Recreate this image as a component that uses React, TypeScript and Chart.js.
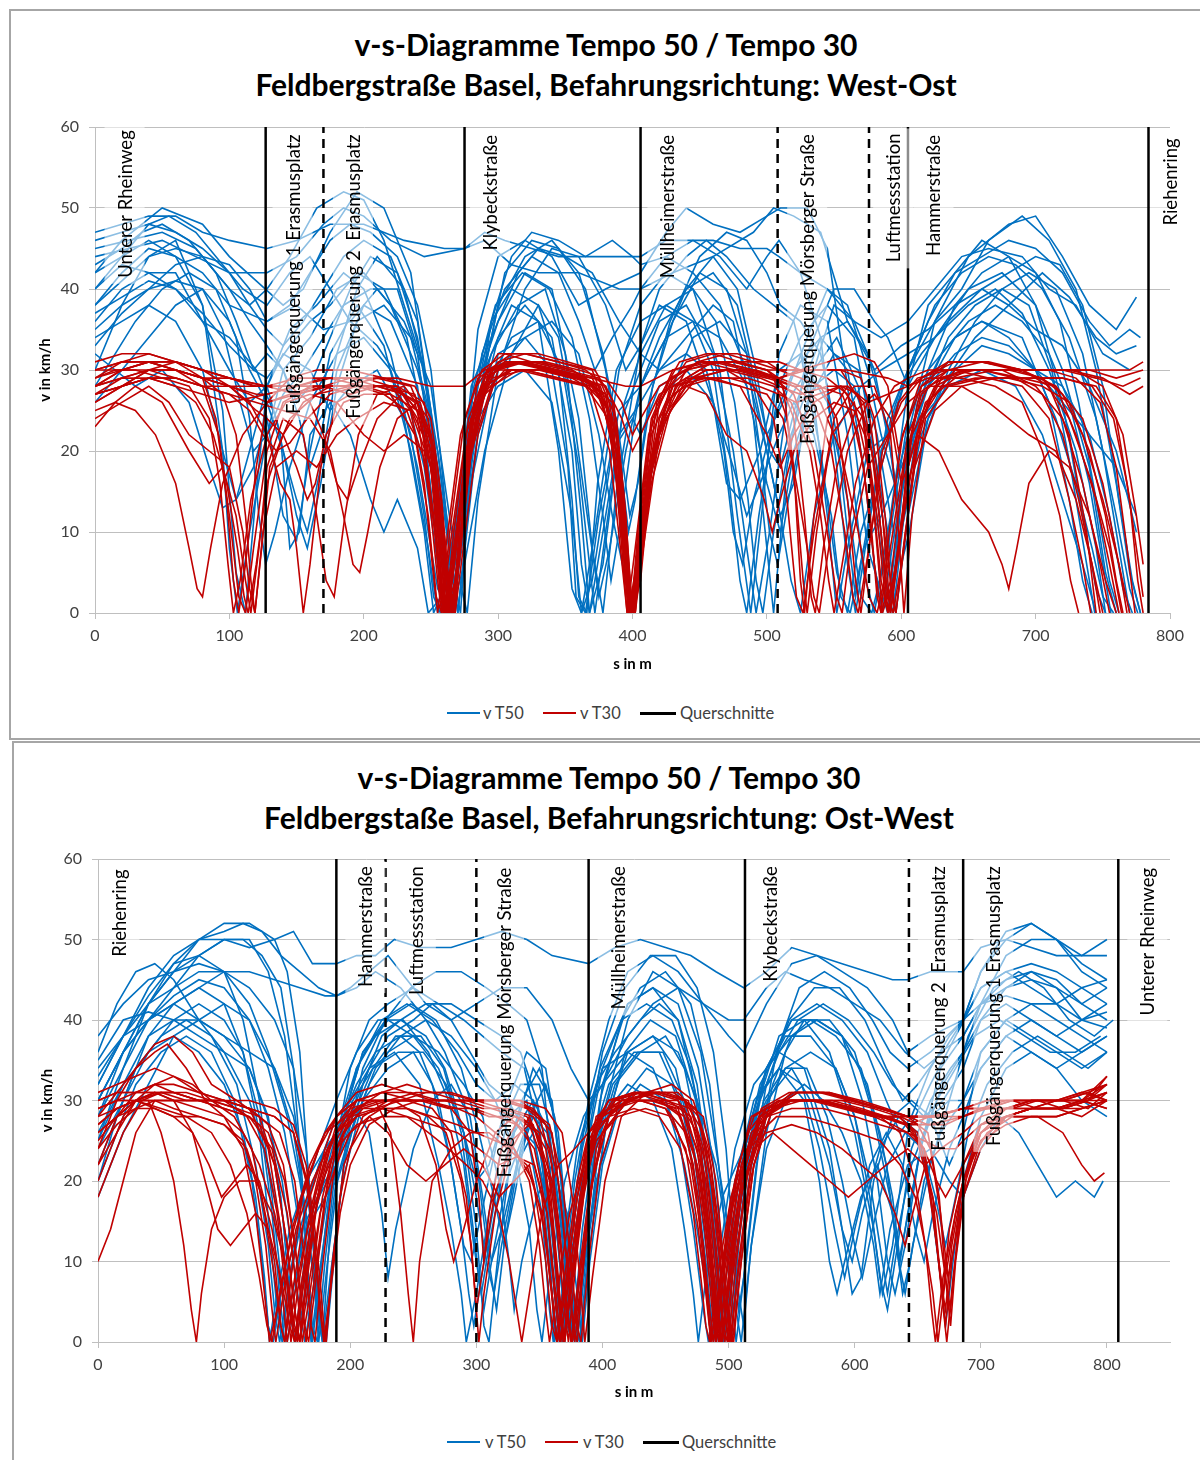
import React, { useEffect, useRef } from 'react';
import { Chart, registerables } from 'chart.js';

Chart.register(...registerables);

// ---------------- DATA: West-Ost (top chart) ----------------
// each trace: flat list of [s in m, v in km/h] pairs
const w50a = [0,47, 20,48, 40,49, 60,49, 80,47, 100,46, 128,45, 150,46, 175,48, 200,48, 230,46, 260,45, 275,45, 290,46, 310,43, 330,42, 360,42, 390,40, 406,40, 430,42, 460,44, 490,47, 505,50, 520,49, 540,47, 560,36, 580,30, 600,33, 620,35, 640,38, 660,40, 680,38, 700,35, 720,33, 740,28, 760,20, 775,10];
const w50b = [0,42, 20,46, 50,50, 80,48, 100,44, 120,41, 140,38, 155,40, 175,47, 195,52, 215,50, 235,42, 250,25, 262,2, 270,10, 285,35, 300,44, 320,46, 340,44, 360,38, 380,40, 406,42, 425,47, 440,50, 460,48, 480,47, 500,49, 510,50, 530,50, 545,45, 560,28, 575,8, 590,0, 605,22, 625,36, 650,44, 680,48, 700,49, 720,44, 740,38, 760,35, 775,39];
const w50c = [0,40, 20,44, 40,46, 60,44, 80,38, 95,25, 105,5, 112,0, 120,15, 128,28, 145,35, 165,38, 185,42, 200,40, 220,32, 240,18, 255,3, 265,0, 275,12, 290,30, 310,38, 330,36, 345,20, 355,3, 362,0, 372,10, 390,30, 406,38, 425,42, 445,40, 465,30, 478,12, 488,0, 498,15, 509,32, 525,38, 545,36, 560,22, 572,5, 580,0, 592,12, 605,28, 625,34, 650,40, 675,42, 700,38, 720,30, 740,18, 752,5, 760,0];
const w50d = [0,30, 20,38, 40,44, 60,46, 80,38, 95,20, 105,14, 118,18, 128,24, 140,12, 150,9, 160,20, 175,32, 195,38, 215,33, 235,20, 248,8, 255,0, 265,5, 280,28, 300,36, 320,42, 340,40, 360,24, 370,8, 378,0, 388,15, 406,33, 420,38, 440,36, 460,26, 470,16, 480,14, 495,20, 509,30, 525,32, 540,20, 552,5, 560,0, 570,10, 585,18, 605,30, 620,36, 640,42, 660,46, 680,44, 700,38, 720,26, 735,12, 745,3, 752,0];
const w50e = [0,44, 25,45, 50,46, 75,44, 100,42, 128,42, 150,44, 170,48, 185,50, 200,49, 220,46, 245,44, 275,45, 290,47, 305,46, 325,45, 345,44, 370,44, 390,44, 406,44, 425,46, 440,46, 460,46, 480,45, 500,45, 509,44, 525,42, 545,40, 565,36, 585,34, 605,36, 625,40, 645,44, 665,45, 690,44, 710,40, 730,38, 750,32, 770,30];
const w50f = [0,36, 20,40, 40,42, 60,42, 80,36, 100,30, 115,26, 128,28, 140,32, 160,30, 175,25, 190,28, 210,30, 230,24, 245,10, 252,0, 262,4, 275,20, 295,32, 315,38, 335,40, 350,32, 362,12, 368,0, 378,6, 392,24, 406,30, 420,36, 440,38, 460,32, 475,20, 485,8, 492,0, 502,10, 515,26, 530,30, 545,26, 560,14, 570,2, 578,0, 590,8, 605,24, 620,30, 640,34, 660,36, 690,34, 710,26, 725,14, 735,4, 742,0];
const w50g = [0,34, 20,36, 40,38, 60,36, 80,30, 95,20, 100,8, 106,0, 115,10, 128,22, 140,30, 160,34, 180,40, 200,42, 220,38, 240,30, 255,20, 265,8, 270,0, 280,16, 300,32, 320,34, 340,30, 352,18, 358,2, 365,0, 375,12, 390,25, 406,28, 425,34, 445,36, 465,34, 485,28, 500,16, 510,10, 520,20, 535,28, 550,30, 565,28, 580,20, 590,10, 596,0, 605,12, 620,24, 640,30, 660,33, 680,32, 700,30, 720,28, 740,22, 755,12, 765,3, 772,0];
const w50h = [0,38, 20,42, 40,45, 60,44, 80,42, 100,38, 128,36, 150,38, 170,35, 190,36, 210,40, 230,36, 250,28, 262,14, 270,5, 277,0, 285,14, 300,30, 320,40, 340,45, 360,44, 380,38, 395,30, 406,33, 420,40, 440,44, 455,46, 470,44, 490,40, 505,38, 520,36, 535,26, 545,12, 552,0, 560,8, 575,20, 590,22, 605,30, 625,36, 645,40, 665,46, 690,49, 710,46, 730,40, 745,30, 760,16, 770,5, 778,0];
const w50i = [0,26, 20,30, 40,34, 60,38, 80,40, 100,36, 115,30, 128,26, 140,20, 150,14, 158,10, 168,18, 180,30, 200,38, 220,36, 240,28, 250,15, 258,3, 263,0, 272,8, 285,22, 300,30, 320,34, 340,36, 360,32, 375,22, 385,12, 395,4, 400,0, 410,14, 425,26, 445,34, 465,36, 485,32, 500,20, 510,12, 518,4, 525,0, 535,12, 550,22, 570,28, 585,30, 605,32, 625,34, 650,38, 670,40, 690,37, 710,30, 730,20, 745,8, 752,0];
const w50j = [0,42, 20,44, 40,48, 55,49, 75,47, 95,43, 110,40, 128,38, 145,42, 160,44, 175,40, 190,36, 210,33, 230,28, 245,18, 255,6, 260,0, 268,10, 280,26, 300,36, 315,42, 330,45, 350,44, 370,42, 390,36, 406,32, 420,30, 440,34, 460,38, 475,36, 490,24, 500,8, 505,0, 515,18, 530,32, 550,40, 565,40, 580,36, 590,34, 605,28, 620,38, 640,42, 660,44, 680,46, 700,45, 720,42, 740,36, 755,33, 770,35, 778,34];
const w50k = [0,32, 15,30, 30,28, 50,30, 70,26, 85,18, 95,13, 105,14, 115,20, 128,28, 138,22, 145,8, 152,10, 160,22, 175,26, 190,22, 205,14, 215,10, 225,14, 240,8, 248,0, 258,2, 270,12, 285,24, 300,28, 320,30, 340,26, 355,12, 362,0, 370,4, 385,20, 400,24, 406,22, 420,28, 440,30, 460,26, 475,18, 485,12, 495,16, 509,22, 520,26, 535,22, 548,12, 555,2, 562,0, 572,8, 585,12, 600,18, 615,24, 635,28, 660,30, 685,28, 705,22, 720,14, 735,6, 745,0];
const w50l = [0,45, 25,46, 50,47, 75,45, 100,40, 115,38, 128,40, 145,44, 165,50, 185,52, 200,51, 215,46, 230,38, 245,30, 255,20, 265,6, 272,0, 280,20, 295,36, 310,44, 325,47, 345,46, 365,44, 385,46, 400,44, 406,43, 425,44, 445,42, 465,38, 485,30, 500,20, 510,12, 520,16, 535,30, 550,38, 565,36, 580,30, 592,20, 600,10, 605,14, 615,22, 630,28, 655,34, 680,38, 705,42, 725,39, 745,34, 760,32, 775,33];
const w50m = [0,40, 20,43, 40,42, 60,40, 80,36, 100,34, 120,30, 135,24, 150,12, 158,8, 168,16, 180,28, 195,36, 215,38, 235,34, 250,24, 260,12, 268,2, 275,6, 290,20, 310,32, 330,38, 345,34, 358,22, 368,10, 375,2, 383,8, 395,20, 406,28, 420,34, 440,40, 460,42, 478,38, 492,28, 500,22, 512,26, 530,34, 545,40, 560,38, 575,30, 585,22, 595,16, 605,22, 620,28, 640,34, 660,36, 680,34, 700,30, 720,26, 740,22, 760,18, 775,12];
const w50n = [0,35, 20,38, 40,40, 60,41, 80,40, 95,35, 108,26, 118,20, 128,22, 140,27, 155,30, 170,34, 185,38, 205,40, 225,40, 240,32, 250,20, 258,8, 265,0, 272,10, 285,24, 300,34, 320,38, 340,34, 355,20, 362,6, 368,0, 376,8, 390,22, 406,26, 420,30, 440,32, 455,30, 468,20, 475,10, 482,6, 490,14, 505,24, 520,30, 540,34, 560,30, 572,18, 580,6, 586,0, 595,10, 605,20, 620,28, 640,32, 660,34, 680,33, 700,30, 715,24, 730,16, 742,8, 750,2, 758,0];
const w50o = [0,46, 20,47, 40,48, 60,47, 80,45, 100,42, 115,38, 128,35, 140,33, 155,36, 170,40, 185,44, 200,46, 220,44, 240,36, 252,22, 260,8, 266,0, 274,14, 288,32, 305,40, 325,44, 345,42, 360,36, 372,30, 385,34, 400,38, 406,40, 425,44, 445,46, 465,44, 485,40, 500,44, 509,46, 525,42, 540,34, 552,18, 560,6, 566,0, 575,10, 590,24, 605,30, 625,38, 645,42, 665,44, 685,43, 705,40, 725,34, 745,24, 760,12, 770,3, 776,0];
const w50p = [0,43, 20,45, 35,47, 50,48, 70,46, 90,42, 105,36, 118,30, 128,32, 140,30, 150,26, 160,28, 175,34, 190,40, 205,44, 225,42, 240,34, 250,24, 257,12, 262,2, 268,6, 280,24, 295,36, 310,40, 330,38, 345,30, 355,14, 360,2, 366,0, 374,16, 388,30, 406,36, 425,38, 445,36, 460,30, 472,16, 480,4, 485,0, 494,12, 509,28, 525,34, 545,38, 565,34, 578,22, 586,8, 592,0, 600,14, 612,26, 630,32, 650,36, 670,38, 690,36, 710,32, 725,26, 740,16, 750,6, 756,0];
const w50q = [0,38, 20,41, 40,44, 60,45, 80,44, 100,40, 115,36, 128,33, 140,30, 152,24, 160,18, 168,22, 180,32, 195,40, 210,44, 230,40, 245,30, 255,16, 262,4, 266,0, 273,8, 285,26, 300,38, 320,44, 340,46, 360,42, 378,32, 390,22, 398,12, 404,16, 415,28, 430,36, 450,42, 470,40, 485,32, 495,20, 502,10, 508,6, 516,14, 530,26, 550,32, 568,30, 582,22, 592,12, 600,6, 606,10, 618,22, 635,30, 655,36, 675,40, 695,42, 715,40, 735,32, 750,20, 762,8, 770,0];
const w50r = [0,33, 20,37, 40,40, 60,43, 80,44, 100,43, 115,40, 128,36, 145,38, 160,42, 175,46, 190,48, 205,47, 225,44, 240,38, 250,30, 258,18, 265,6, 270,0, 278,12, 290,30, 305,42, 325,46, 345,45, 365,40, 380,30, 390,20, 397,10, 402,14, 412,26, 428,36, 450,44, 470,47, 485,46, 500,42, 510,38, 525,36, 540,32, 552,22, 560,10, 566,2, 572,8, 585,20, 600,28, 615,32, 635,36, 660,40, 680,42, 700,44, 718,43, 735,38, 750,28, 762,14, 772,4, 778,0];
const w50s = [0,28, 15,32, 30,36, 50,40, 70,42, 90,40, 105,34, 115,24, 122,12, 127,6, 134,10, 145,18, 160,26, 180,32, 200,34, 220,30, 235,22, 245,12, 252,2, 257,0, 265,8, 278,20, 292,28, 310,34, 330,36, 348,30, 360,18, 368,6, 372,0, 380,10, 394,26, 406,32, 425,38, 445,40, 462,36, 476,26, 486,14, 492,4, 497,0, 505,10, 518,22, 535,30, 552,34, 568,28, 580,14, 588,4, 594,0, 602,12, 615,26, 635,34, 655,38, 675,40, 695,38, 712,30, 726,18, 736,8, 744,0];
const w50t = [0,37, 20,39, 40,41, 60,40, 80,37, 100,33, 118,30, 128,29, 145,33, 160,36, 175,38, 195,42, 215,40, 232,34, 244,24, 252,12, 258,2, 263,0, 270,10, 282,28, 298,38, 318,42, 338,40, 355,34, 368,24, 378,12, 384,4, 390,10, 400,22, 406,28, 425,34, 440,40, 460,44, 478,40, 492,30, 502,20, 510,18, 522,26, 540,34, 560,36, 575,32, 588,24, 598,14, 605,18, 620,30, 640,38, 660,42, 680,44, 700,42, 718,36, 732,26, 745,14, 755,4, 762,0];

const w30a = [0,27, 20,29, 40,30, 60,30, 80,29, 100,28, 128,28, 150,28, 170,29, 200,29, 225,29, 250,28, 275,28, 290,30, 310,31, 340,30, 370,29, 395,28, 406,28, 430,30, 460,31, 490,31, 509,30, 530,30, 560,30, 590,29, 605,28, 625,30, 650,30, 680,30, 710,30, 740,30, 760,29, 780,30];
const w30b = [0,28, 20,30, 40,31, 60,30, 80,28, 92,22, 100,12, 107,2, 112,0, 118,8, 128,20, 140,26, 160,28, 185,28, 210,29, 235,28, 250,22, 258,10, 263,0, 270,10, 280,24, 295,30, 315,31, 340,30, 365,29, 380,26, 390,14, 396,2, 400,0, 406,12, 415,24, 430,29, 450,31, 475,31, 500,30, 512,28, 520,18, 525,4, 528,0, 535,12, 545,24, 560,28, 575,26, 585,14, 592,0, 600,10, 605,20, 615,27, 635,30, 660,31, 690,30, 710,28, 725,22, 738,10, 745,0];
const w30c = [0,25, 15,26, 30,25, 45,22, 60,16, 70,8, 76,3, 80,2, 86,8, 95,16, 110,22, 128,26, 150,27, 175,28, 200,28, 225,28, 245,24, 255,14, 262,4, 268,0, 274,8, 285,22, 300,30, 320,31, 345,30, 370,29, 385,24, 393,12, 398,2, 402,0, 408,8, 420,22, 440,29, 460,31, 485,30, 509,29, 530,30, 555,30, 570,26, 580,12, 586,0, 594,4, 605,16, 620,26, 640,30, 665,30, 690,30, 715,28, 730,22, 745,14, 755,6, 762,0];
const w30d = [0,23, 15,26, 30,28, 50,26, 70,20, 85,16, 95,18, 105,12, 112,4, 116,0, 122,8, 128,18, 140,24, 155,22, 165,12, 172,4, 178,2, 186,12, 196,22, 210,27, 230,28, 248,24, 256,12, 262,2, 266,0, 272,12, 282,26, 300,31, 320,32, 345,31, 370,30, 388,22, 395,8, 400,0, 405,6, 415,20, 430,28, 450,30, 470,30, 490,28, 505,24, 515,14, 522,2, 527,0, 535,10, 548,22, 565,26, 578,16, 585,4, 590,0, 598,8, 608,22, 625,28, 650,30, 680,30, 705,29, 725,24, 742,16, 755,8, 764,0];
const w30e = [0,29, 20,31, 40,31, 60,30, 80,29, 100,28, 115,26, 128,22, 138,16, 145,14, 150,8, 155,0, 160,6, 168,18, 180,26, 200,28, 225,28, 245,26, 255,18, 262,6, 267,0, 273,10, 283,24, 298,30, 320,30, 345,29, 370,28, 385,26, 392,16, 397,4, 401,0, 408,10, 420,24, 440,30, 465,31, 490,30, 509,29, 525,28, 540,26, 555,20, 568,10, 576,2, 582,0, 590,6, 605,22, 620,28, 645,30, 675,30, 700,28, 720,24, 735,16, 748,6, 755,0];
const w30f = [0,27, 20,28, 40,29, 60,29, 80,28, 100,27, 120,26, 140,25, 160,24, 175,20, 185,12, 192,6, 197,5, 203,10, 212,18, 225,24, 240,26, 252,20, 260,8, 265,0, 271,6, 280,20, 295,28, 315,30, 340,29, 365,28, 382,24, 390,14, 395,4, 399,0, 405,10, 418,22, 435,28, 455,30, 480,30, 505,29, 520,27, 535,20, 545,10, 552,2, 556,0, 562,8, 575,18, 590,22, 605,26, 620,28, 645,28, 665,26, 680,24, 695,22, 715,20, 730,14, 742,6, 750,0];
const w30g = [0,30, 20,31, 40,32, 60,31, 80,29, 90,24, 98,14, 103,4, 107,0, 112,6, 120,18, 128,26, 145,29, 165,30, 190,30, 215,29, 238,28, 250,24, 258,14, 264,2, 268,0, 274,14, 284,28, 300,32, 320,32, 345,31, 365,30, 380,28, 390,20, 396,8, 400,0, 406,4, 414,18, 428,28, 448,31, 470,32, 490,31, 509,31, 525,30, 545,29, 560,27, 572,18, 580,6, 585,0, 592,4, 602,18, 615,28, 635,31, 660,31, 690,30, 720,30, 745,29, 765,28, 778,29];
const w30h = [0,24, 20,26, 40,28, 55,26, 70,22, 85,20, 100,18, 110,10, 115,3, 119,0, 125,10, 135,18, 150,20, 165,18, 180,22, 195,24, 215,26, 235,25, 250,18, 258,6, 262,0, 268,8, 278,22, 292,30, 310,31, 335,30, 360,29, 380,27, 390,18, 396,6, 399,0, 404,8, 414,22, 430,28, 455,29, 480,28, 500,22, 510,18, 520,22, 535,26, 555,28, 572,24, 582,12, 588,2, 592,0, 600,10, 612,22, 628,20, 645,14, 655,12, 665,10, 675,6, 680,3, 686,8, 695,16, 710,20, 725,18, 740,12, 752,4, 760,0];
const w30i = [0,28, 20,29, 40,30, 60,29, 80,28, 100,28, 120,27, 128,27, 150,28, 175,29, 200,28, 220,27, 238,22, 248,12, 254,2, 258,0, 264,8, 276,22, 290,29, 310,31, 335,31, 360,30, 380,29, 392,26, 400,22, 406,24, 420,28, 440,30, 465,31, 490,30, 505,29, 515,24, 522,14, 527,4, 530,0, 537,10, 550,24, 565,28, 580,28, 592,22, 598,10, 602,0, 608,12, 618,24, 635,28, 660,29, 690,29, 720,29, 745,28, 760,24, 770,14, 776,4, 780,0];
const w30j = [0,26, 20,28, 40,29, 60,28, 80,27, 100,26, 128,27, 150,28, 175,28, 200,28, 220,28, 240,26, 252,16, 258,4, 261,0, 268,4, 278,18, 290,27, 310,30, 335,30, 360,29, 378,26, 388,18, 394,6, 397,0, 403,6, 412,18, 425,26, 445,29, 470,30, 495,29, 509,28, 525,27, 545,28, 560,28, 572,26, 580,18, 586,8, 590,0, 596,6, 605,18, 618,26, 640,29, 670,30, 700,30, 725,30, 750,29, 770,27, 780,28];
const w30k = [0,29, 15,30, 30,30, 50,29, 70,28, 85,24, 93,16, 99,6, 103,0, 108,4, 116,14, 128,22, 142,26, 160,27, 180,26, 200,22, 215,20, 230,22, 245,20, 253,10, 259,2, 263,0, 269,10, 280,24, 295,29, 320,30, 345,29, 368,28, 383,20, 391,8, 396,0, 402,4, 410,14, 422,24, 440,28, 460,29, 485,29, 505,28, 518,26, 532,20, 540,12, 546,4, 550,0, 556,6, 566,16, 580,24, 595,28, 605,29, 620,30, 640,30, 665,29, 690,28, 710,24, 725,14, 735,6, 741,0];
const w30l = [0,28, 20,30, 40,31, 60,31, 80,30, 100,29, 128,28, 150,27, 170,28, 190,29, 210,28, 230,27, 244,22, 252,12, 257,2, 260,0, 266,6, 276,20, 288,28, 305,31, 330,31, 355,30, 372,28, 385,22, 393,10, 398,0, 404,6, 412,16, 425,24, 440,28, 455,27, 470,22, 485,20, 498,14, 504,10, 510,14, 520,20, 535,24, 550,26, 565,25, 578,20, 586,12, 592,4, 596,0, 603,10, 615,24, 630,29, 655,30, 685,30, 710,30, 735,30, 755,30, 770,30, 780,31];
const w30m = [0,30, 20,30, 40,30, 60,30, 80,29, 100,28, 115,27, 128,26, 145,27, 165,28, 185,28, 205,28, 225,28, 240,24, 249,14, 255,4, 258,0, 264,10, 275,24, 288,30, 305,32, 325,31, 350,30, 375,29, 388,24, 395,12, 399,2, 402,0, 408,12, 420,26, 440,31, 460,32, 480,31, 500,30, 509,29, 525,30, 545,31, 565,32, 580,31, 590,28, 598,20, 605,24, 615,29, 635,31, 660,31, 685,30, 705,29, 720,27, 735,22, 750,14, 762,6, 770,0];
const w30n = [0,27, 20,28, 40,30, 60,31, 80,30, 100,28, 120,25, 128,24, 140,22, 150,18, 158,14, 164,16, 172,22, 185,26, 200,27, 220,27, 240,25, 250,18, 256,8, 260,0, 266,4, 276,18, 290,28, 310,30, 335,30, 360,29, 380,28, 392,24, 400,20, 406,22, 420,27, 440,29, 460,29, 480,28, 500,27, 512,24, 522,16, 530,8, 535,2, 539,0, 546,8, 560,20, 575,26, 590,27, 605,28, 620,29, 645,29, 670,28, 690,26, 705,20, 718,12, 726,4, 732,0];
const w30o = [0,29, 20,30, 40,31, 60,31, 80,30, 100,29, 120,28, 128,28, 150,29, 175,29, 200,29, 220,28, 235,25, 245,16, 251,6, 255,0, 261,8, 272,22, 285,29, 305,31, 330,31, 355,30, 375,28, 386,20, 392,8, 396,0, 402,8, 412,22, 428,29, 450,31, 475,31, 500,30, 515,30, 535,30, 555,30, 570,29, 580,24, 588,12, 593,2, 596,0, 602,8, 612,22, 628,29, 650,30, 680,30, 710,30, 730,29, 748,26, 760,18, 768,8, 774,0];
const w30p = [0,26, 20,28, 40,30, 60,30, 80,29, 95,27, 105,22, 112,12, 116,4, 119,0, 124,8, 130,18, 145,24, 165,27, 190,28, 215,28, 238,27, 250,20, 257,8, 261,0, 267,10, 278,24, 292,30, 312,31, 338,30, 362,29, 380,27, 390,18, 396,6, 399,0, 404,10, 414,24, 430,30, 452,31, 476,30, 500,29, 520,28, 538,28, 556,27, 568,22, 577,12, 582,2, 585,0, 591,10, 601,22, 615,28, 635,30, 660,30, 690,29, 715,28, 735,24, 750,16, 762,6, 768,0];
const w30q = [0,31, 20,32, 40,32, 60,31, 80,30, 100,29, 128,28, 150,28, 170,28, 190,27, 210,28, 230,27, 244,24, 254,14, 260,4, 264,0, 270,6, 280,20, 293,30, 310,32, 330,32, 352,31, 372,30, 386,26, 394,14, 399,2, 402,0, 408,12, 418,26, 435,31, 455,32, 478,32, 500,31, 509,30, 525,29, 540,28, 552,24, 560,14, 566,4, 570,0, 576,8, 586,20, 600,26, 615,29, 640,31, 665,31, 690,30, 710,30, 730,30, 750,28, 765,22, 775,12, 780,6];
const w30r = [0,28, 20,29, 40,29, 60,28, 75,26, 88,22, 98,16, 106,8, 111,2, 114,0, 120,6, 128,16, 140,22, 155,26, 175,28, 200,28, 220,28, 238,26, 250,18, 256,6, 259,0, 265,6, 276,18, 289,27, 305,30, 330,30, 355,29, 375,27, 388,20, 395,8, 398,0, 404,4, 414,16, 428,25, 448,29, 470,30, 492,30, 509,29, 520,24, 528,12, 533,2, 536,0, 542,8, 552,18, 566,25, 580,27, 592,24, 600,16, 605,18, 615,24, 630,28, 655,29, 680,29, 705,28, 725,26, 740,20, 752,12, 760,4, 765,0];
const w30s = [0,30, 20,31, 40,31, 60,30, 80,29, 100,29, 118,28, 128,28, 145,28, 160,26, 170,22, 180,16, 188,14, 196,18, 210,24, 228,27, 242,26, 252,20, 259,10, 263,2, 267,0, 272,10, 282,24, 296,30, 318,31, 342,30, 365,29, 382,25, 391,14, 396,4, 400,0, 406,6, 416,20, 432,28, 455,30, 480,30, 505,29, 520,28, 535,26, 548,20, 558,10, 564,2, 568,0, 574,6, 585,18, 598,26, 612,29, 635,30, 660,30, 685,29, 705,27, 720,22, 732,14, 742,6, 748,0];
const w30t = [0,27, 20,28, 40,29, 60,29, 80,28, 100,27, 115,25, 125,22, 135,20, 145,21, 158,24, 175,27, 195,28, 215,27, 232,25, 245,19, 253,10, 258,2, 262,0, 268,8, 278,20, 290,28, 308,30, 332,30, 356,29, 376,28, 388,22, 395,10, 400,0, 406,8, 416,20, 430,27, 450,29, 472,29, 494,28, 509,27, 522,26, 538,27, 555,28, 568,27, 578,20, 585,10, 590,2, 594,0, 600,6, 610,18, 625,25, 645,28, 670,29, 695,29, 720,29, 742,28, 758,24, 768,16, 775,8, 780,2];

// ---------------- DATA: Ost-West (bottom chart) ----------------
const o50a = [0,32, 20,38, 40,44, 60,48, 80,50, 100,50, 120,49, 140,50, 155,51, 170,47, 189,47, 205,48, 220,48, 235,50, 255,49, 280,49, 300,50, 320,51, 340,50, 360,48, 389,47, 410,49, 430,50, 450,49, 470,48, 490,46, 512,44, 530,46, 550,49, 570,48, 590,47, 610,46, 630,45, 642,45, 660,46, 686,46, 700,49, 720,50, 740,49, 760,48, 780,48, 800,50];
const o50b = [0,30, 20,36, 40,42, 60,46, 80,50, 100,52, 120,52, 140,50, 150,46, 160,36, 168,18, 174,4, 178,0, 184,14, 195,28, 210,36, 230,40, 250,38, 270,34, 290,26, 300,14, 306,2, 310,0, 318,12, 330,26, 345,34, 360,30, 370,16, 376,4, 380,0, 388,16, 400,32, 420,42, 440,44, 460,40, 478,28, 490,14, 498,4, 502,0, 508,12, 520,28, 540,38, 560,40, 580,36, 600,26, 615,14, 622,6, 630,12, 642,26, 660,32, 680,38, 700,44, 720,46, 740,44, 760,42, 780,40, 800,41];
const o50c = [0,25, 20,34, 40,42, 60,47, 80,48, 100,46, 115,40, 128,30, 138,18, 145,8, 150,0, 156,6, 166,18, 180,24, 189,26, 200,30, 215,34, 235,36, 255,32, 270,22, 280,14, 288,6, 292,0, 300,6, 312,18, 325,28, 340,30, 352,20, 360,6, 364,0, 372,10, 385,26, 400,34, 420,36, 440,34, 460,26, 472,14, 480,4, 484,0, 492,10, 505,24, 520,32, 540,36, 560,34, 580,24, 592,12, 598,6, 605,8, 615,20, 630,28, 645,30, 660,28, 675,22, 686,26, 700,36, 720,40, 740,42, 760,40, 780,38, 800,36];
const o50d = [0,35, 20,40, 40,41, 60,40, 80,38, 100,36, 120,34, 135,28, 145,18, 152,6, 156,0, 162,4, 172,16, 189,26, 205,34, 220,38, 240,40, 260,38, 275,34, 290,26, 300,20, 310,22, 325,30, 340,36, 355,34, 365,24, 372,10, 376,0, 382,8, 395,24, 410,32, 430,36, 450,38, 465,34, 478,24, 488,12, 494,2, 497,0, 504,10, 515,26, 530,34, 550,40, 570,40, 590,38, 610,32, 625,22, 635,10, 640,6, 646,12, 660,22, 675,30, 690,38, 710,44, 730,46, 750,44, 770,40, 790,38, 805,40];
const o50e = [0,28, 20,34, 40,40, 60,44, 80,48, 100,50, 115,50, 130,48, 145,44, 155,34, 162,20, 167,6, 170,0, 176,8, 186,22, 200,34, 215,40, 230,42, 250,44, 270,42, 290,40, 305,38, 320,36, 338,34, 350,26, 358,12, 362,0, 368,6, 378,20, 389,30, 405,40, 420,46, 440,48, 460,46, 480,42, 500,38, 512,36, 530,42, 550,47, 570,48, 590,46, 610,44, 630,40, 642,36, 660,38, 686,40, 700,46, 720,50, 740,52, 760,50, 780,48, 800,48];
const o50f = [0,20, 15,28, 30,34, 50,38, 70,40, 90,38, 110,32, 125,22, 135,12, 140,4, 144,0, 150,6, 160,14, 175,22, 189,28, 200,30, 215,26, 225,16, 230,8, 236,14, 250,24, 265,30, 280,32, 295,28, 305,18, 312,10, 320,14, 332,22, 345,26, 355,18, 362,6, 366,0, 372,8, 385,20, 400,28, 420,32, 440,30, 455,24, 465,14, 472,6, 476,0, 482,8, 495,18, 512,24, 530,30, 550,34, 565,30, 580,22, 590,14, 598,10, 606,16, 620,24, 635,28, 650,26, 660,18, 668,8, 672,2, 678,10, 686,20, 700,28, 720,34, 740,36, 760,34, 780,30, 800,28];
const o50g = [0,18, 20,26, 40,32, 60,38, 80,40, 100,42, 120,40, 140,34, 155,26, 165,16, 172,6, 175,0, 182,10, 190,20, 205,28, 220,34, 240,38, 260,40, 280,38, 300,34, 315,30, 330,24, 342,14, 348,4, 352,0, 358,8, 370,20, 385,28, 400,32, 420,36, 440,38, 460,36, 475,30, 490,22, 500,12, 506,4, 510,0, 518,12, 530,24, 545,30, 560,32, 575,30, 590,26, 605,20, 615,12, 620,6, 628,14, 642,22, 660,24, 675,20, 686,18, 700,24, 715,28, 730,26, 745,22, 760,18, 775,20, 790,18, 797,20];
const o50h = [0,36, 15,42, 30,46, 45,47, 60,45, 80,40, 100,36, 120,30, 135,22, 145,14, 152,4, 156,0, 162,8, 175,18, 189,22, 200,28, 215,34, 230,38, 250,40, 265,42, 280,40, 295,36, 310,32, 325,30, 340,26, 352,16, 358,4, 361,0, 368,10, 380,24, 395,32, 410,36, 430,40, 445,42, 460,40, 475,32, 485,20, 492,8, 496,0, 502,8, 512,20, 525,30, 540,36, 555,40, 575,42, 595,40, 615,36, 630,32, 642,30, 655,28, 670,30, 686,34, 700,40, 720,44, 740,46, 760,44, 780,42, 800,44];
const o50i = [0,30, 20,36, 40,40, 60,42, 80,44, 100,46, 120,46, 140,45, 160,44, 180,43, 189,43, 200,44, 215,46, 230,48, 245,45, 260,42, 280,40, 300,42, 320,44, 340,44, 360,40, 375,34, 389,30, 400,32, 420,38, 440,42, 460,44, 480,42, 500,40, 512,40, 530,44, 545,46, 560,45, 580,44, 600,42, 620,40, 640,36, 655,34, 670,36, 686,40, 700,46, 720,51, 740,52, 760,50, 780,46, 800,44];
const o50j = [0,24, 20,30, 40,36, 60,40, 80,42, 100,40, 115,36, 128,28, 138,16, 144,6, 148,0, 154,6, 165,14, 180,18, 189,20, 200,26, 215,32, 230,36, 250,38, 270,36, 290,32, 305,28, 318,20, 326,10, 330,4, 336,10, 348,18, 360,22, 372,16, 380,6, 384,0, 390,10, 400,22, 415,30, 435,34, 455,32, 470,26, 482,16, 490,6, 494,0, 500,6, 510,18, 525,28, 545,34, 565,36, 585,34, 600,28, 612,20, 620,12, 626,6, 632,12, 645,22, 660,28, 675,30, 686,30, 700,34, 720,38, 740,40, 760,38, 780,36, 800,38];
const o50k = [0,32, 20,38, 40,42, 60,44, 80,46, 100,46, 120,42, 135,36, 150,28, 160,20, 168,12, 174,4, 178,0, 184,8, 194,20, 210,30, 230,34, 250,36, 265,32, 280,22, 290,12, 296,10, 304,16, 318,26, 335,32, 350,32, 362,24, 370,12, 376,2, 380,0, 388,12, 400,28, 420,40, 440,46, 460,44, 478,36, 490,24, 500,14, 508,6, 512,2, 518,12, 530,26, 545,36, 560,40, 580,40, 600,36, 615,28, 628,18, 635,10, 640,14, 652,24, 665,30, 680,34, 695,38, 715,40, 735,38, 755,36, 775,36, 795,38];
const o50l = [0,26, 20,32, 40,36, 60,38, 80,36, 100,32, 115,26, 125,18, 132,8, 136,0, 142,6, 152,14, 165,20, 180,24, 189,26, 205,32, 220,36, 240,38, 255,36, 270,30, 280,22, 288,14, 294,6, 298,2, 304,8, 315,18, 330,26, 345,30, 358,26, 368,14, 374,2, 378,0, 384,8, 395,20, 410,28, 430,32, 450,30, 465,22, 475,14, 483,6, 488,0, 494,8, 505,20, 520,30, 540,34, 560,30, 572,20, 580,10, 586,6, 592,10, 605,18, 618,22, 630,16, 638,6, 644,10, 655,20, 668,26, 686,30, 700,36, 720,40, 740,38, 760,36, 780,34, 800,36];
const o50m = [0,34, 20,38, 40,40, 60,42, 80,40, 100,38, 120,36, 140,34, 155,28, 165,20, 172,10, 176,2, 180,0, 186,10, 195,22, 210,32, 225,38, 240,40, 260,42, 280,42, 300,40, 320,38, 335,36, 348,30, 356,18, 362,6, 366,0, 372,10, 384,24, 398,34, 415,40, 435,42, 455,40, 470,34, 482,24, 490,14, 496,4, 500,0, 506,10, 516,24, 530,34, 550,40, 570,42, 590,40, 610,36, 625,30, 636,26, 645,28, 660,34, 675,38, 686,40, 700,42, 720,44, 740,45, 760,44, 780,40, 800,39];
const o50n = [0,33, 20,38, 40,43, 60,47, 80,50, 100,51, 115,52, 130,51, 145,48, 160,46, 175,44, 189,43, 205,44, 220,46, 240,44, 260,40, 275,36, 290,30, 302,20, 310,10, 316,4, 322,12, 335,24, 348,30, 358,22, 366,10, 372,2, 376,0, 384,14, 398,30, 415,40, 430,44, 450,46, 470,42, 485,32, 495,18, 502,6, 506,0, 512,8, 522,22, 535,32, 550,38, 565,40, 585,38, 605,34, 620,26, 630,18, 636,10, 642,16, 655,26, 670,32, 686,36, 700,42, 720,45, 740,46, 760,45, 780,42, 800,40];
const o50o = [0,28, 20,36, 40,42, 60,46, 80,48, 100,50, 120,50, 135,46, 148,38, 158,26, 165,12, 170,2, 174,0, 180,10, 190,24, 205,34, 225,40, 245,42, 265,40, 285,36, 300,32, 315,30, 330,32, 345,30, 356,20, 363,8, 368,0, 374,8, 385,22, 400,34, 420,42, 440,44, 460,42, 476,34, 488,22, 496,10, 500,2, 506,6, 516,20, 530,32, 548,40, 568,44, 588,44, 608,40, 625,34, 638,30, 650,32, 668,36, 686,38, 700,42, 720,48, 740,50, 760,50, 780,47, 800,45];
const o50p = [0,22, 20,30, 40,38, 60,42, 80,44, 100,42, 115,36, 128,26, 136,14, 142,4, 146,0, 152,8, 162,18, 175,24, 189,30, 205,36, 222,40, 242,40, 262,36, 278,30, 290,22, 298,12, 304,6, 310,12, 322,22, 336,30, 350,34, 362,28, 372,14, 378,4, 382,0, 390,14, 404,28, 420,36, 440,38, 458,34, 472,24, 482,12, 488,4, 492,0, 498,8, 510,22, 525,32, 545,38, 565,38, 585,34, 600,28, 612,18, 620,8, 626,4, 634,12, 645,24, 660,30, 676,34, 686,36, 700,40, 720,42, 740,40, 760,38, 780,40, 800,42];
const o50q = [0,30, 20,36, 40,40, 60,43, 80,45, 100,44, 120,40, 135,34, 148,26, 158,16, 165,6, 169,0, 175,8, 184,18, 195,28, 210,36, 228,40, 248,42, 268,40, 288,34, 302,26, 314,18, 322,12, 330,18, 342,28, 355,32, 365,26, 373,12, 378,2, 382,0, 390,12, 402,26, 418,36, 438,40, 458,38, 474,30, 485,18, 492,6, 496,0, 503,10, 515,24, 530,34, 550,38, 570,40, 590,38, 606,30, 618,20, 626,10, 632,6, 640,12, 652,24, 668,34, 686,38, 700,42, 720,43, 740,42, 760,42, 780,44, 800,45];
const o50r = [0,20, 15,26, 30,32, 50,36, 70,38, 90,36, 108,30, 122,20, 130,10, 135,2, 139,0, 145,6, 155,12, 168,16, 180,20, 189,22, 202,28, 218,34, 236,38, 256,38, 274,34, 288,26, 296,16, 302,8, 306,4, 312,10, 324,20, 338,26, 350,24, 360,14, 366,4, 370,0, 377,10, 390,24, 405,32, 425,36, 445,36, 462,30, 474,20, 482,10, 487,2, 490,0, 497,10, 508,22, 522,30, 540,34, 558,32, 572,24, 584,14, 592,8, 600,14, 612,22, 625,26, 638,22, 648,14, 655,10, 662,16, 675,24, 686,28, 700,34, 720,38, 740,36, 760,34, 780,36, 800,38];
const o50s = [0,38, 20,42, 40,45, 60,46, 80,47, 100,46, 120,44, 140,40, 155,34, 165,24, 172,12, 177,2, 181,0, 187,10, 196,24, 210,34, 228,40, 248,44, 268,46, 288,46, 308,44, 325,42, 340,40, 352,34, 360,22, 366,10, 370,2, 376,8, 387,24, 400,36, 418,44, 438,48, 458,48, 475,44, 488,36, 498,24, 504,12, 508,4, 514,10, 524,24, 538,36, 556,44, 576,46, 596,44, 614,40, 628,36, 642,34, 660,36, 686,40, 700,44, 720,46, 740,47, 760,46, 780,44, 800,42];
const o50t = [0,25, 20,32, 40,38, 60,40, 80,40, 100,38, 120,34, 134,28, 146,20, 155,10, 160,4, 164,0, 170,6, 180,16, 189,24, 202,30, 218,34, 238,36, 258,36, 276,32, 290,26, 300,18, 308,10, 314,6, 320,12, 332,22, 345,28, 356,26, 366,16, 372,6, 376,0, 383,10, 394,24, 408,32, 428,36, 448,36, 465,30, 477,20, 486,10, 491,2, 495,0, 502,10, 514,22, 528,30, 545,34, 562,34, 578,28, 590,20, 600,12, 606,8, 614,14, 626,22, 640,26, 654,24, 664,18, 672,12, 680,18, 690,26, 705,32, 725,36, 745,38, 765,36, 785,34, 800,36];

const o30a = [0,10, 10,14, 20,20, 30,26, 45,30, 60,30, 80,30, 100,30, 120,29, 135,24, 145,14, 152,4, 156,0, 162,8, 172,18, 182,24, 189,26, 200,28, 215,30, 235,30, 260,30, 285,29, 300,28, 315,26, 330,24, 345,20, 355,10, 360,2, 364,0, 370,6, 380,18, 389,24, 400,28, 420,30, 440,30, 460,30, 475,26, 485,14, 491,4, 495,0, 501,8, 510,20, 525,28, 545,30, 570,30, 595,29, 615,28, 630,27, 642,26, 655,24, 665,20, 672,18, 686,22, 700,27, 720,28, 740,29, 760,29, 780,30, 800,31];
const o30b = [0,24, 15,30, 30,34, 45,37, 60,38, 75,36, 90,32, 110,30, 128,28, 140,22, 150,12, 156,4, 160,0, 166,8, 176,20, 189,27, 205,30, 225,31, 250,30, 275,30, 295,29, 310,28, 325,28, 340,26, 352,18, 360,6, 364,0, 370,6, 380,18, 389,26, 405,30, 425,31, 445,30, 465,28, 478,20, 486,8, 490,0, 497,10, 508,22, 520,28, 540,30, 565,30, 590,30, 615,29, 635,28, 650,26, 662,18, 668,8, 672,2, 677,10, 686,20, 700,27, 720,29, 740,30, 760,30, 780,30, 800,32];
const o30c = [0,20, 10,24, 20,28, 30,30, 40,30, 50,26, 60,20, 68,12, 74,4, 78,0, 82,6, 90,14, 100,18, 112,20, 125,20, 138,16, 148,10, 155,2, 158,0, 163,8, 172,18, 182,24, 189,26, 200,28, 220,29, 240,30, 260,30, 280,29, 295,26, 302,18, 306,10, 310,16, 320,24, 335,28, 350,26, 360,16, 366,4, 369,0, 375,8, 385,20, 395,28, 415,30, 440,30, 460,29, 472,22, 480,10, 485,2, 488,0, 494,8, 505,20, 518,28, 540,30, 565,30, 590,29, 615,28, 635,28, 648,26, 658,20, 665,12, 670,6, 675,14, 686,22, 700,26, 720,28, 740,29, 760,29, 780,30, 800,30];
const o30d = [0,28, 15,31, 30,34, 45,36, 55,37, 70,34, 85,30, 100,28, 115,24, 125,16, 132,6, 136,0, 142,4, 152,12, 165,20, 180,26, 189,28, 205,31, 225,32, 245,31, 265,30, 285,30, 305,29, 325,29, 345,28, 358,24, 366,14, 372,4, 375,0, 381,8, 389,18, 400,26, 420,30, 445,31, 465,30, 480,26, 490,16, 496,6, 500,0, 506,10, 516,22, 530,28, 550,30, 575,30, 600,29, 625,28, 642,27, 660,28, 686,29, 705,29, 725,30, 745,29, 765,29, 785,30, 800,32];
const o30e = [0,26, 15,28, 30,30, 45,31, 60,30, 75,26, 85,20, 95,14, 105,12, 115,14, 125,16, 135,14, 145,8, 152,2, 156,0, 162,6, 172,16, 182,22, 189,24, 200,28, 215,30, 235,30, 255,28, 268,22, 276,14, 282,10, 290,14, 300,20, 315,26, 330,28, 345,27, 358,20, 365,8, 369,0, 375,6, 385,18, 395,26, 415,30, 440,31, 460,30, 475,24, 485,12, 490,2, 493,0, 499,10, 510,22, 525,28, 545,30, 570,30, 595,29, 620,28, 640,27, 655,24, 662,16, 668,8, 672,4, 677,12, 686,20, 700,26, 720,28, 740,29, 760,29, 780,30, 800,29];
const o30f = [0,22, 15,28, 30,31, 45,32, 60,31, 80,30, 100,29, 120,28, 138,24, 150,16, 158,6, 162,0, 168,6, 178,18, 189,25, 205,30, 220,30, 232,26, 240,16, 246,6, 250,0, 255,10, 265,20, 280,24, 295,26, 310,26, 325,24, 340,22, 352,16, 360,6, 364,0, 370,6, 380,18, 389,25, 405,30, 425,31, 445,31, 465,30, 478,24, 486,12, 491,2, 494,0, 500,8, 510,20, 525,28, 545,30, 570,30, 595,29, 620,28, 642,27, 660,27, 686,28, 705,29, 725,30, 745,30, 765,30, 785,31, 800,30];
const o30g = [0,30, 15,31, 30,31, 45,31, 60,30, 80,30, 100,29, 120,28, 135,26, 148,20, 158,10, 164,2, 167,0, 173,8, 182,20, 189,26, 200,29, 220,30, 240,30, 260,31, 280,31, 300,30, 320,30, 340,29, 355,27, 365,20, 372,10, 377,2, 380,0, 386,12, 395,24, 410,30, 430,31, 450,30, 470,29, 482,22, 490,12, 496,2, 499,0, 505,12, 515,24, 530,29, 550,30, 575,30, 600,29, 620,28, 642,28, 665,28, 686,29, 705,30, 725,30, 745,30, 765,30, 785,29, 800,31];
const o30h = [0,28, 15,29, 30,30, 45,30, 60,30, 80,29, 100,28, 115,26, 128,22, 140,16, 150,8, 156,2, 160,0, 166,6, 176,16, 189,22, 200,26, 215,28, 230,26, 245,22, 260,20, 275,22, 290,24, 305,22, 318,18, 330,20, 342,22, 354,14, 361,4, 364,0, 370,8, 380,20, 389,26, 405,29, 425,30, 445,30, 462,28, 475,22, 484,12, 489,4, 492,0, 498,8, 508,18, 520,24, 535,26, 550,24, 565,22, 580,20, 595,18, 610,20, 625,22, 642,24, 655,22, 665,16, 672,8, 676,4, 682,14, 690,22, 705,26, 725,28, 745,28, 765,26, 780,22, 790,20, 798,21];
const o30i = [0,25, 15,28, 30,30, 45,31, 60,31, 80,30, 100,30, 120,29, 135,27, 147,22, 156,12, 162,4, 165,0, 170,6, 180,18, 189,24, 205,29, 225,31, 245,32, 265,31, 285,30, 305,30, 325,30, 345,29, 360,26, 368,16, 374,6, 378,0, 384,8, 392,20, 405,28, 425,31, 445,31, 465,30, 480,28, 490,20, 496,10, 501,2, 504,0, 510,10, 520,22, 535,29, 555,31, 580,31, 605,30, 625,29, 642,28, 660,28, 686,29, 705,29, 725,29, 745,29, 765,29, 785,30, 800,33];
const o30j = [0,29, 15,30, 30,30, 45,29, 60,28, 80,28, 100,27, 118,24, 130,18, 140,10, 145,2, 148,0, 153,8, 162,18, 175,24, 189,28, 205,30, 225,30, 245,30, 265,29, 280,26, 292,18, 298,8, 302,0, 306,6, 315,16, 328,24, 342,28, 352,24, 360,14, 366,4, 370,0, 376,8, 386,20, 395,27, 410,30, 430,30, 450,29, 466,24, 476,14, 482,6, 486,0, 492,6, 502,18, 515,26, 530,29, 550,30, 575,30, 600,29, 620,28, 636,26, 648,20, 656,12, 661,4, 664,0, 670,8, 680,16, 686,20, 700,26, 720,28, 740,29, 760,30, 780,30, 800,29];
const o30k = [0,27, 15,29, 30,30, 45,30, 60,29, 80,28, 100,27, 115,25, 125,20, 133,12, 138,4, 141,0, 147,6, 157,14, 170,20, 182,24, 189,26, 205,28, 225,29, 245,29, 265,28, 285,27, 300,26, 315,25, 330,24, 342,20, 350,12, 355,4, 358,0, 364,6, 374,16, 385,22, 395,26, 410,29, 430,30, 450,29, 466,26, 476,18, 482,8, 486,0, 492,6, 502,16, 515,24, 530,28, 550,29, 575,29, 600,28, 620,27, 642,26, 655,25, 668,24, 680,24, 686,25, 700,27, 720,28, 740,28, 760,28, 780,29, 800,30];
const o30l = [0,24, 15,27, 30,29, 45,30, 60,30, 80,30, 100,30, 120,30, 140,29, 155,27, 165,22, 172,14, 177,6, 180,0, 185,8, 192,18, 200,24, 215,28, 235,30, 255,30, 275,30, 295,30, 315,30, 335,30, 350,28, 360,22, 367,12, 372,4, 376,0, 382,6, 390,18, 400,26, 420,30, 440,31, 460,31, 476,28, 486,20, 493,10, 498,2, 501,0, 507,8, 517,20, 530,28, 550,31, 575,31, 600,30, 620,29, 642,28, 660,28, 675,28, 686,28, 700,29, 720,30, 740,30, 760,30, 780,31, 800,32];
const o30m = [0,27, 15,29, 30,30, 50,29, 70,28, 90,26, 105,22, 118,16, 128,8, 134,2, 138,0, 144,6, 154,14, 168,22, 180,26, 189,27, 205,29, 225,29, 245,28, 262,26, 278,24, 292,22, 305,20, 318,16, 326,10, 332,4, 336,0, 342,6, 352,16, 365,22, 378,24, 389,26, 405,28, 425,29, 445,28, 462,24, 472,16, 478,8, 482,2, 485,0, 491,8, 502,18, 515,24, 530,26, 550,27, 570,26, 590,24, 605,22, 620,20, 632,16, 640,12, 646,16, 656,22, 668,24, 686,26, 700,28, 720,29, 740,29, 760,29, 780,29, 800,30];
const o30n = [0,29, 15,30, 30,31, 45,32, 60,32, 80,31, 100,30, 120,29, 140,28, 155,26, 165,20, 172,12, 176,4, 179,0, 184,6, 192,16, 200,22, 215,27, 235,29, 255,30, 275,30, 295,30, 315,30, 335,30, 355,29, 368,26, 376,18, 382,8, 386,0, 392,8, 402,20, 415,28, 435,31, 455,32, 472,30, 484,24, 492,14, 498,6, 503,0, 510,10, 520,22, 535,29, 555,31, 580,31, 600,30, 620,29, 642,28, 658,27, 672,27, 686,28, 700,29, 720,29, 740,30, 760,30, 780,30, 800,33];
const o30o = [0,18, 10,22, 20,26, 35,30, 50,31, 70,31, 90,30, 110,29, 128,27, 140,22, 150,12, 156,4, 160,0, 165,8, 174,18, 184,24, 189,26, 205,29, 225,30, 250,30, 275,30, 300,30, 320,29, 340,28, 355,24, 364,14, 370,4, 373,0, 379,10, 388,22, 400,28, 420,30, 445,30, 465,29, 478,22, 487,10, 492,2, 495,0, 501,10, 512,22, 526,29, 548,31, 572,31, 596,30, 620,29, 642,28, 658,26, 667,18, 672,8, 676,2, 680,10, 688,20, 700,26, 720,29, 740,30, 760,30, 780,30, 800,31];
const o30p = [0,31, 15,32, 30,33, 45,34, 60,33, 80,31, 100,30, 118,28, 132,24, 142,16, 149,6, 153,0, 158,6, 168,16, 180,24, 189,28, 205,30, 225,31, 248,31, 270,30, 292,30, 312,29, 332,28, 348,26, 360,20, 368,10, 373,2, 376,0, 382,8, 392,20, 405,28, 428,31, 450,31, 468,30, 480,24, 489,12, 494,4, 497,0, 503,8, 514,20, 528,28, 548,30, 572,30, 596,30, 620,29, 642,28, 664,28, 686,29, 705,29, 725,29, 745,30, 765,30, 785,31, 800,32];
const o30q = [0,22, 15,26, 30,30, 45,32, 60,33, 75,32, 90,30, 108,28, 122,24, 132,16, 140,8, 145,2, 148,0, 154,6, 164,16, 176,22, 189,26, 205,28, 225,29, 245,29, 262,28, 276,26, 288,20, 296,12, 300,4, 304,8, 314,18, 328,25, 342,27, 354,22, 362,12, 367,4, 370,0, 376,8, 386,20, 397,28, 415,30, 438,30, 458,29, 472,24, 481,14, 487,4, 490,0, 496,8, 506,18, 518,26, 536,29, 558,30, 582,30, 605,29, 625,28, 642,27, 655,24, 664,14, 669,6, 673,0, 678,8, 686,18, 700,25, 720,28, 740,29, 760,29, 780,28, 800,30];
const o30r = [0,30, 15,31, 30,31, 45,31, 60,31, 80,30, 100,30, 120,29, 140,28, 155,26, 166,20, 173,10, 178,2, 181,0, 186,10, 195,22, 210,28, 230,30, 252,31, 275,31, 298,30, 320,30, 342,29, 358,27, 368,20, 375,10, 380,2, 383,0, 389,10, 398,22, 412,29, 434,31, 456,31, 474,29, 486,22, 494,12, 499,4, 502,0, 508,10, 518,22, 532,29, 552,31, 576,31, 600,30, 622,29, 642,28, 662,28, 686,29, 705,30, 725,30, 745,30, 765,29, 785,30, 800,31];
const o30s = [0,26, 15,28, 30,29, 45,29, 60,28, 75,26, 88,22, 98,18, 108,20, 118,22, 128,20, 138,14, 146,6, 150,0, 156,6, 166,14, 178,20, 189,24, 205,27, 225,28, 245,28, 265,27, 285,26, 302,24, 318,22, 332,23, 346,22, 356,16, 363,6, 367,0, 373,8, 383,18, 395,25, 412,28, 434,29, 455,28, 470,22, 480,12, 485,4, 488,0, 494,8, 504,18, 518,25, 538,28, 560,28, 582,27, 602,26, 620,25, 636,22, 648,18, 656,12, 662,6, 666,0, 672,8, 680,16, 686,20, 700,25, 720,27, 740,28, 760,28, 780,29, 800,30];
const o30t = [0,29, 15,30, 30,30, 50,31, 70,30, 90,30, 110,29, 128,28, 144,26, 156,20, 164,10, 169,2, 172,0, 177,8, 186,20, 195,26, 210,29, 230,30, 255,30, 278,29, 298,29, 316,28, 332,27, 346,24, 356,16, 362,6, 366,0, 372,6, 382,18, 392,26, 408,30, 430,31, 452,30, 470,28, 482,20, 490,8, 494,0, 500,6, 510,18, 524,27, 545,30, 570,30, 594,29, 616,28, 636,28, 650,27, 660,24, 668,16, 674,8, 679,12, 686,18, 700,24, 720,28, 740,29, 760,30, 780,31, 800,30];

const westT50 = [w50a, w50b, w50c, w50d, w50e, w50f, w50g, w50h, w50i, w50j, w50k, w50l, w50m, w50n, w50o, w50p, w50q, w50r, w50s, w50t];
const westT30 = [w30a, w30b, w30c, w30d, w30e, w30f, w30g, w30h, w30i, w30j, w30k, w30l, w30m, w30n, w30o, w30p, w30q, w30r, w30s, w30t];
const eastT50 = [o50a, o50b, o50c, o50d, o50e, o50f, o50g, o50h, o50i, o50j, o50k, o50l, o50m, o50n, o50o, o50p, o50q, o50r, o50s, o50t];
const eastT30 = [o30a, o30b, o30c, o30d, o30e, o30f, o30g, o30h, o30i, o30j, o30k, o30l, o30m, o30n, o30o, o30p, o30q, o30r, o30s, o30t];

// Querschnitte (cross sections), s in m
const westSolidCuts = [127, 275, 406, 605, 784];
const westDashedCuts = [170, 508, 576];
const eastSolidCuts = [189, 389, 513, 686, 809];
const eastDashedCuts = [228, 300, 643];

// section labels: s position (m), v of top end of text
const westLabelNames = ['Unterer Rheinweg', 'Fußgängerquerung 1 Erasmusplatz', 'Fußgängerquerung 2  Erasmusplatz', 'Klybeckstraße', 'Müllheimerstraße', 'Fußgängerquerung Mörsberger Straße', 'Luftmessstation', 'Hammerstraße', 'Riehenring'];
const westLabelS = [22, 147, 192, 294, 426, 530, 594, 624, 800];
const westLabelTop = [59.6, 59.1, 59.1, 59.0, 59.0, 59.1, 59.2, 59.0, 58.6];
const eastLabelNames = ['Riehenring', 'Hammerstraße', 'Luftmessstation', 'Fußgängerquerung Mörsberger Straße', 'Müllheimerstraße', 'Klybeckstraße', 'Fußgängerquerung 2  Erasmusplatz', 'Fußgängerquerung 1 Erasmusplatz', 'Unterer Rheinweg'];
const eastLabelS = [17, 212, 252, 322, 412, 533, 666, 710, 832];
const eastLabelTop = [58.7, 59.1, 59.1, 58.9, 59.1, 59.1, 59.1, 59.1, 58.9];

const yTicksMax = 60;

// ---------------- rendering ----------------
const BLUE = '#0070C0';
const RED = '#C00000';
const FONT = 'Lato, "Open Sans", sans-serif';
const TXT = '#404040';

function toPoints(a: number[]) {
  const out: { x: number; y: number }[] = [];
  for (let i = 0; i + 1 < a.length; i += 2) out.push({ x: a[i], y: a[i + 1] });
  return out;
}

function buildDatasets(t50: number[][], t30: number[][], solid: number[], dashed: number[]) {
  const ds: any[] = [];
  t50.forEach((a) => ds.push({ label: 'v T50', data: toPoints(a), borderColor: BLUE, borderWidth: 1.6, pointRadius: 0, tension: 0, order: 3 }));
  t30.forEach((a) => ds.push({ label: 'v T30', data: toPoints(a), borderColor: RED, borderWidth: 1.6, pointRadius: 0, tension: 0, order: 2 }));
  solid.forEach((s) => ds.push({ label: 'Querschnitte', data: [{ x: s, y: 0 }, { x: s, y: yTicksMax }], borderColor: '#000', borderWidth: 2.5, pointRadius: 0, order: 1 }));
  dashed.forEach((s) => ds.push({ label: 'Querschnitte', data: [{ x: s, y: 0 }, { x: s, y: yTicksMax }], borderColor: '#000', borderWidth: 2.5, borderDash: [9, 6], pointRadius: 0, order: 1 }));
  return ds;
}

const labelPlugin = {
  id: 'sectionLabels',
  afterDatasetsDraw(chart: any, _args: any, opts: any) {
    const { ctx } = chart;
    const xs = chart.scales.x;
    const ys = chart.scales.y;
    const names: string[] = opts.names || [];
    ctx.save();
    ctx.font = `18.5px ${FONT}`;
    names.forEach((text, i) => {
      const cx = xs.getPixelForValue(opts.s[i]);
      const top = ys.getPixelForValue(opts.top[i]);
      const w = ctx.measureText(text).width;
      ctx.fillStyle = 'rgba(255,255,255,0.55)';
      ctx.fillRect(cx - 20, top - 5, 40, w + 11);
      ctx.save();
      ctx.translate(cx + 1, top);
      ctx.rotate(-Math.PI / 2);
      ctx.fillStyle = '#000';
      ctx.textAlign = 'right';
      ctx.textBaseline = 'middle';
      ctx.fillText(text, 0, 0);
      ctx.restore();
    });
    ctx.restore();
  },
};

type ChartProps = {
  t50: number[][]; t30: number[][]; solid: number[]; dashed: number[];
  xMax: number; yWidth: number; padTop: number; xHeight: number; xTitlePad: number; yTitlePad: number;
  names: string[]; ls: number[]; lt: number[]; top: number;
};

function VSChart(p: ChartProps) {
  const ref = useRef<HTMLCanvasElement | null>(null);
  useEffect(() => {
    if (!ref.current) return;
    const chart = new Chart(ref.current, {
      type: 'line',
      data: { datasets: buildDatasets(p.t50, p.t30, p.solid, p.dashed) },
      plugins: [labelPlugin],
      options: {
        animation: false,
        responsive: false,
        maintainAspectRatio: false,
        events: [],
        layout: { padding: { top: p.padTop, right: 30, bottom: 0, left: 0 } },
        plugins: {
          legend: { display: false },
          tooltip: { enabled: false },
          sectionLabels: { names: p.names, s: p.ls, top: p.lt },
        } as any,
        scales: {
          x: {
            type: 'linear', min: 0, max: p.xMax,
            afterBuildTicks: (s: any) => { s.ticks = s.ticks.filter((t: any) => t.value % 100 === 0); },
            afterFit: (s: any) => { s.height = p.xHeight; },
            ticks: { stepSize: 100, color: TXT, font: { family: FONT, size: 16 }, padding: 7, maxRotation: 0, autoSkip: false },
            grid: { drawOnChartArea: false, drawTicks: true, tickLength: 6, color: '#bfbfbf' },
            border: { color: '#bfbfbf', width: 1 },
            title: { display: true, text: 's in m', color: '#000', font: { family: FONT, size: 15, weight: 'bold' }, padding: { top: 0, bottom: p.xTitlePad } },
          },
          y: {
            min: 0, max: yTicksMax,
            afterFit: (s: any) => { s.width = p.yWidth; },
            ticks: { stepSize: 10, color: TXT, font: { family: FONT, size: 16 }, padding: 10 },
            grid: { color: '#bfbfbf', tickLength: 6 },
            border: { color: '#bfbfbf', width: 1 },
            title: { display: true, text: 'v in km/h', color: '#000', font: { family: FONT, size: 15, weight: 'bold' }, padding: { top: p.yTitlePad, bottom: 0 } },
          },
        },
      } as any,
    });
    return () => chart.destroy();
  }, []);
  return (
    <canvas ref={ref} width={1200} height={590}
      style={{ position: 'absolute', left: 0, top: p.top, width: 1200, height: 590 }} />
  );
}

function Legend({ top, pos }: { top: number; pos: number[] }) {
  // pos: [blueLine, blueText, redLine, redText, blackLine, blackText]
  const lineStyle = (left: number, w: number, h: number, c: string): React.CSSProperties => ({
    position: 'absolute', left, top: top - h / 2, width: w, height: h, background: c,
  });
  const txt = (left: number): React.CSSProperties => ({
    position: 'absolute', left, top: top - 10, height: 20, lineHeight: '20px', fontFamily: FONT, fontSize: 16.5, color: TXT, whiteSpace: 'nowrap',
  });
  return (
    <>
      <div style={lineStyle(pos[0], 33, 2, BLUE)} />
      <div style={txt(pos[1])}>v T50</div>
      <div style={lineStyle(pos[2], 33, 2, RED)} />
      <div style={txt(pos[3])}>v T30</div>
      <div style={lineStyle(pos[4], 36, 3, '#000')} />
      <div style={txt(pos[5])}>Querschnitte</div>
    </>
  );
}

function Title({ top, left, lines }: { top: number; left: number; lines: string[] }) {
  return (
    <div style={{ position: 'absolute', left, top, width: 1192, textAlign: 'center', fontFamily: FONT, fontWeight: 'bold', fontSize: 30, lineHeight: '40px', color: '#000' }}>
      {lines.map((l, i) => <div key={i}>{l}</div>)}
    </div>
  );
}

export default function App() {
  return (
    <div style={{ position: 'absolute', left: 0, top: 0, width: 1200, height: 1460, overflow: 'hidden', background: '#fff' }}>
      <div style={{ position: 'absolute', left: 9, top: 9, width: 1210, height: 731, border: '2px solid #a6a6a6', boxSizing: 'border-box' }} />
      <div style={{ position: 'absolute', left: 12, top: 741, width: 1210, height: 740, border: '2px solid #a6a6a6', boxSizing: 'border-box' }} />
      <Title top={24} left={10} lines={['v-s-Diagramme Tempo 50 / Tempo 30', 'Feldbergstraße Basel, Befahrungsrichtung: West-Ost']} />
      <Title top={757} left={13} lines={['v-s-Diagramme Tempo 50 / Tempo 30', 'Feldbergstaße Basel, Befahrungsrichtung: Ost-West']} />
      <VSChart t50={westT50} t30={westT30} solid={westSolidCuts} dashed={westDashedCuts} xMax={800}
        yWidth={95} padTop={27} xHeight={77} xTitlePad={17} yTitlePad={36}
        names={westLabelNames} ls={westLabelS} lt={westLabelTop} top={100} />
      <VSChart t50={eastT50} t30={eastT30} solid={eastSolidCuts} dashed={eastDashedCuts} xMax={850}
        yWidth={98} padTop={29} xHeight={78} xTitlePad={19} yTitlePad={38}
        names={eastLabelNames} ls={eastLabelS} lt={eastLabelTop} top={830} />
      <Legend top={713} pos={[447, 483, 543, 580, 640, 680]} />
      <Legend top={1442} pos={[447, 485, 545, 583, 643, 682]} />
    </div>
  );
}
